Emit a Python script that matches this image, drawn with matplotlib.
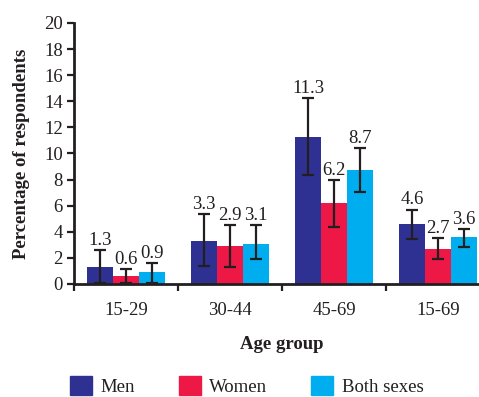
import matplotlib
matplotlib.use('Agg')
import matplotlib.pyplot as plt
import numpy as np
from matplotlib.patches import Patch

plt.rcParams['font.family'] = ['Liberation Serif', 'DejaVu Serif']

# Datos
grupos = ['15-29', '30-44', '45-69', '15-69']
series = ['Men', 'Women', 'Both sexes']
colores = ['#2E3192', '#ED1846', '#00AEEF']

valores = {
    'Men':        [1.3, 3.3, 11.3, 4.6],
    'Women':      [0.6, 2.9, 6.2, 2.7],
    'Both sexes': [0.9, 3.1, 8.7, 3.6],
}
# limites del intervalo (inferior, superior)
inferior = {
    'Men':        [0.05, 1.35, 8.35, 3.45],
    'Women':      [0.1, 1.3, 4.4, 1.9],
    'Both sexes': [0.1, 1.9, 7.05, 2.85],
}
superior = {
    'Men':        [2.6, 5.35, 14.25, 5.7],
    'Women':      [1.15, 4.5, 7.95, 3.5],
    'Both sexes': [1.6, 4.5, 10.4, 4.2],
}

fs = 13.5
fig = plt.figure(figsize=(4.79, 3.97), dpi=100)
ax = fig.add_axes([74/479, 1-284/397, 416/479, 261/397])

x = np.arange(len(grupos))
ancho = 0.247
eje = '#231F20'

for i, s in enumerate(series):
    pos = x + (i - 1) * ancho
    v = np.array(valores[s])
    lo = v - np.array(inferior[s])
    hi = np.array(superior[s]) - v
    ax.bar(pos, v, ancho, color=colores[i], zorder=2)
    ax.errorbar(pos, v, yerr=[lo, hi], fmt='none', ecolor=eje,
                elinewidth=1.6, capsize=4, capthick=1.6, zorder=3)
    for p, val, top in zip(pos, v, superior[s]):
        ax.text(p, top + 0.1, f'{val:.1f}', ha='center', va='bottom',
                fontsize=fs, color=eje)

ax.set_xlim(-0.5, 3.5)
ax.set_ylim(0, 20)
ax.set_yticks(range(0, 21, 2))
ax.set_xticks(np.arange(-0.5, 4, 1))
ax.set_xticklabels([])
ax.set_xticks(x, minor=True)
ax.set_xticklabels(grupos, minor=True)
ax.tick_params(axis='x', which='minor', length=0, pad=13, labelsize=fs, labelcolor=eje)
ax.tick_params(axis='x', which='major', length=5, width=1.6, color=eje, direction='out')
ax.tick_params(axis='y', length=5, width=1.6, color=eje, labelsize=fs, labelcolor=eje, pad=3)

for lado in ['top', 'right']:
    ax.spines[lado].set_visible(False)
for lado in ['left', 'bottom']:
    ax.spines[lado].set_linewidth(2)
    ax.spines[lado].set_color(eje)

ax.set_ylabel('Percentage of respondents', fontsize=fs, fontweight='bold', color=eje, labelpad=10)
ax.set_xlabel('Age group', fontsize=fs, fontweight='bold', color=eje, labelpad=12)

handles = [Patch(color=c) for c in colores]
fig.legend(handles, series, loc='lower left', bbox_to_anchor=(69/479, 0.0), ncol=3,
           frameon=False, fontsize=fs, handlelength=1.2, handleheight=1.2,
           columnspacing=2.3, handletextpad=0.45, labelcolor=eje,
           borderaxespad=0, borderpad=0.05)

fig.savefig('out.png', dpi=100)
